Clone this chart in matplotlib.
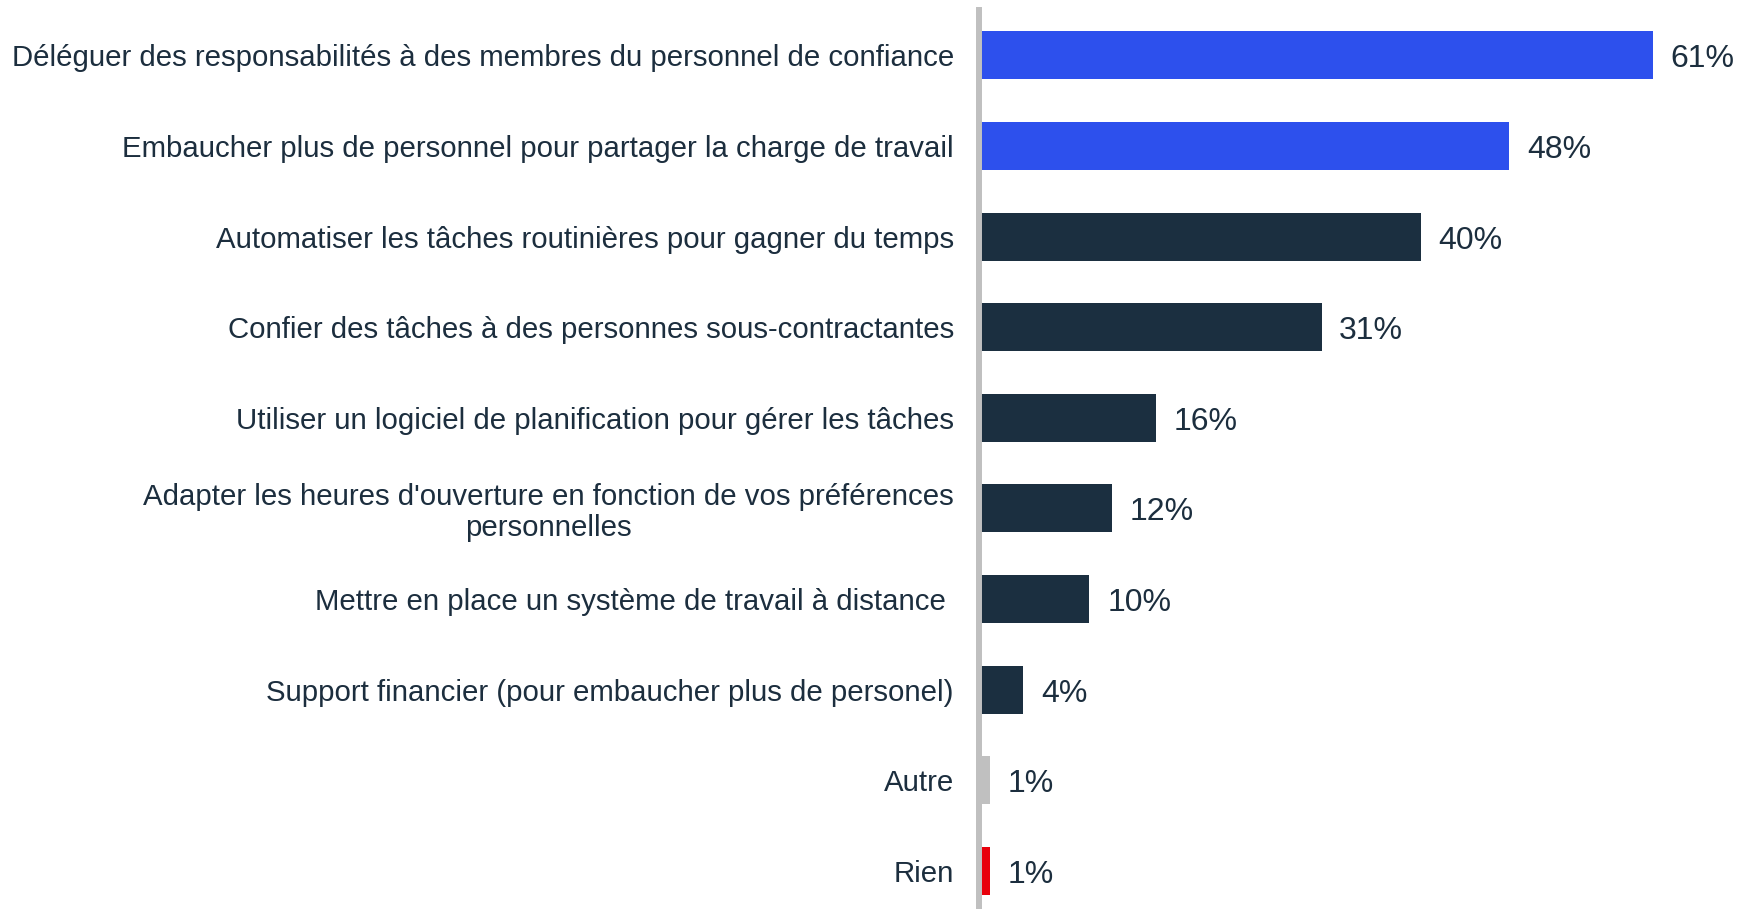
import matplotlib
matplotlib.use("Agg")
import matplotlib.pyplot as plt

# data
categories = [
    "Déléguer des responsabilités à des membres du personnel de confiance",
    "Embaucher plus de personnel pour partager la charge de travail",
    "Automatiser les tâches routinières pour gagner du temps",
    "Confier des tâches à des personnes sous-contractantes",
    "Utiliser un logiciel de planification pour gérer les tâches",
    "Adapter les heures d'ouverture en fonction de vos préférences\npersonnelles",
    "Mettre en place un système de travail à distance ",
    "Support financier (pour embaucher plus de personel)",
    "Autre",
    "Rien",
]
values = [61, 48, 40, 31, 16, 12, 10, 4, 1, 1]
value_labels = ["61%", "48%", "40%", "31%", "16%", "12%", "10%", "4%", "1%", "1%"]

BLUE = "#2D50ED"
NAVY = "#1B2F40"
GREY = "#C0C0C0"
RED = "#E8000B"
TEXT = "#1C2E3E"
colors = [BLUE, BLUE, NAVY, NAVY, NAVY, NAVY, NAVY, NAVY, GREY, RED]

plt.rcParams["font.family"] = ["Liberation Sans", "DejaVu Sans"]

fig = plt.figure(figsize=(17.37, 9.09), dpi=100)
ax = fig.add_axes([979 / 1737, -5 / 909, 1 - 979 / 1737, 904 / 909])

ypos = list(range(len(categories)))
ax.barh(ypos, values, height=0.53, color=colors)

for y, v, lab in zip(ypos, values, value_labels):
    ax.text(v + 1.6, y + 0.045, lab, va="center", ha="left", fontsize=23, color=TEXT)

ax.set_yticks(ypos)
ax.set_yticklabels(categories, fontsize=21.2, color=TEXT, multialignment="center",
                   linespacing=1.1)
ax.tick_params(axis="y", length=0, pad=18)
ax.set_xticks([])
ax.set_xlim(0, 68.6)
ax.set_ylim(9.477, -0.5)

for side in ["top", "right", "bottom"]:
    ax.spines[side].set_visible(False)
ax.spines["left"].set_color(GREY)
ax.spines["left"].set_linewidth(4.3)

fig.savefig("out.png", dpi=100)
